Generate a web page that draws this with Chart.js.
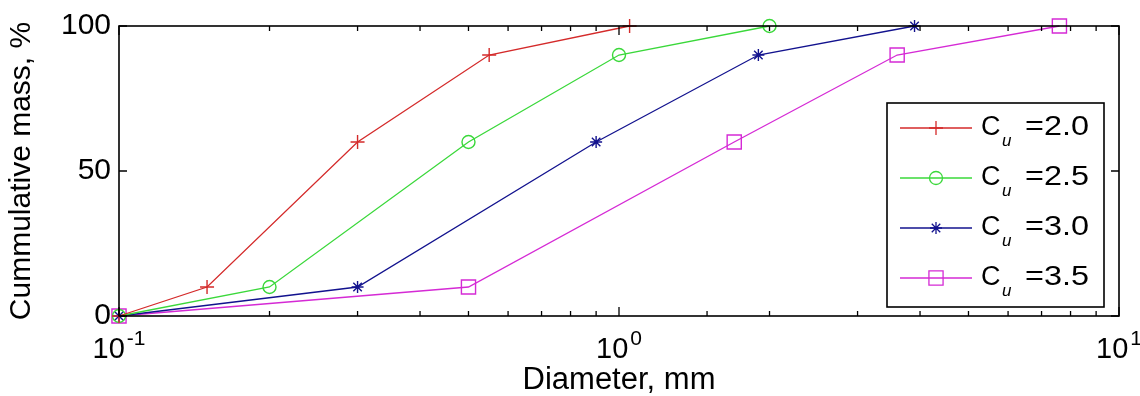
<!DOCTYPE html>
<html>
<head>
<meta charset="utf-8">
<script src="https://cdn.jsdelivr.net/npm/chart.js@4.4.0/dist/chart.umd.min.js"></script>
<style>
  html, body { margin: 0; padding: 0; background: #fff; }
</style>
</head>
<body>
<canvas id="sieve" width="1140" height="396"></canvas>
<script>
// cumulative mass passing, % (same levels for every curve)
var massPassing = [0, 10, 60, 90, 100];
// particle diameters, mm
var diamCu20 = [0.1, 0.15, 0.3, 0.55, 1.05];
var diamCu25 = [0.1, 0.2, 0.5, 1.0, 2.0];
var diamCu30 = [0.1, 0.3, 0.9, 1.9, 3.9];
var diamCu35 = [0.1, 0.5, 1.7, 3.6, 7.6];
var cuValues = ['2.0', '2.5', '3.0', '3.5'];
var yTickValues = [0, 50, 100];

var FONT = "'Liberation Sans', Arial, sans-serif";
Chart.defaults.font.family = FONT;
Chart.defaults.color = '#000';

function pairUp(xs, ys) {
  return xs.map(function(x, i) { return {x: x, y: ys[i]}; });
}
function isDecade(v) {
  var l = Math.log10(v);
  return Math.abs(l - Math.round(l)) < 1e-6;
}

var styles = [
  {color: '#d42a2a', pointStyle: 'cross', radius: 7},
  {color: '#3ad83a', pointStyle: 'circle', radius: 6.5},
  {color: '#12128e', pointStyle: 'star', radius: 6},
  {color: '#d52ad5', pointStyle: 'rect', radius: 10}
];
var diams = [diamCu20, diamCu25, diamCu30, diamCu35];

var datasets = diams.map(function(d, i) {
  var s = styles[i];
  return {
    label: 'Cu=' + cuValues[i],
    data: pairUp(d, massPassing),
    borderColor: s.color,
    borderWidth: 1.3,
    pointStyle: s.pointStyle,
    pointRadius: s.radius,
    pointBorderColor: s.color,
    pointBackgroundColor: 'rgba(0,0,0,0)',
    pointBorderWidth: 1.4,
    fill: false,
    tension: 0,
    clip: false
  };
});

var framePlugin = {
  id: 'frame',
  afterDraw: function(chart) {
    var ctx = chart.ctx, a = chart.chartArea;
    var xs = chart.scales.x, ys = chart.scales.y;
    ctx.save();
    ctx.strokeStyle = '#000';
    ctx.lineWidth = 1.6;
    ctx.strokeRect(a.left, a.top, a.right - a.left, a.bottom - a.top);

    // inward tick marks, bottom/top and left/right
    ctx.lineWidth = 1.3;
    ctx.beginPath();
    xs.ticks.forEach(function(t) {
      var px = xs.getPixelForValue(t.value);
      var len = isDecade(t.value) ? 9 : 5;
      ctx.moveTo(px, a.bottom); ctx.lineTo(px, a.bottom - len);
      ctx.moveTo(px, a.top); ctx.lineTo(px, a.top + len);
    });
    ys.ticks.forEach(function(t) {
      var py = ys.getPixelForValue(t.value);
      ctx.moveTo(a.left, py); ctx.lineTo(a.left + 8, py);
      ctx.moveTo(a.right, py); ctx.lineTo(a.right - 8, py);
    });
    ctx.stroke();

    // decade labels as 10 with a superscript exponent
    ctx.fillStyle = '#000';
    ctx.textBaseline = 'alphabetic';
    xs.ticks.forEach(function(t) {
      if (!isDecade(t.value)) return;
      var px = xs.getPixelForValue(t.value);
      var expo = String(Math.round(Math.log10(t.value)));
      ctx.font = '29px ' + FONT;
      var w1 = ctx.measureText('10').width;
      ctx.font = '21px ' + FONT;
      var w2 = ctx.measureText(expo).width;
      var x0 = px - (w1 + w2 + 2) / 2;
      ctx.font = '29px ' + FONT;
      ctx.fillText('10', x0, 358);
      ctx.font = '21px ' + FONT;
      ctx.fillText(expo, x0 + w1 + 2, 345);
    });

    // legend box
    var bx = 887, by = 103, bw = 217, bh = 204;
    ctx.fillStyle = '#fff';
    ctx.fillRect(bx, by, bw, bh);
    ctx.strokeStyle = '#000';
    ctx.lineWidth = 1.6;
    ctx.strokeRect(bx, by, bw, bh);
    chart.data.datasets.forEach(function(ds, i) {
      var y = 128 + 50 * i;
      ctx.strokeStyle = ds.borderColor;
      ctx.lineWidth = 1.3;
      ctx.beginPath();
      ctx.moveTo(900, y); ctx.lineTo(972, y);
      ctx.stroke();
      ctx.fillStyle = 'rgba(0,0,0,0)';
      Chart.helpers.drawPoint(ctx, {
        pointStyle: ds.pointStyle, radius: ds.pointRadius,
        rotation: 0, borderWidth: ds.pointBorderWidth
      }, 936, y);
      ctx.fillStyle = '#000';
      ctx.textBaseline = 'middle';
      ctx.font = '27px ' + FONT;
      ctx.fillText('C', 981, y);
      ctx.font = 'italic 17px ' + FONT;
      ctx.fillText('u', 1002, y + 13);
      ctx.save();
      ctx.translate(1025, y);
      ctx.scale(1.2, 1);
      ctx.font = '27px ' + FONT;
      ctx.fillText('=' + cuValues[i], 0, 0);
      ctx.restore();
    });
    ctx.restore();
  }
};

new Chart(document.getElementById('sieve'), {
  type: 'line',
  data: {datasets: datasets},
  options: {
    responsive: false,
    animation: false,
    events: [],
    layout: {padding: {top: 24, right: 21, left: 0, bottom: 0}},
    plugins: {legend: {display: false}, tooltip: {enabled: false}},
    scales: {
      x: {
        type: 'logarithmic',
        min: 0.1,
        max: 10,
        grid: {display: false, drawTicks: false},
        border: {display: false},
        ticks: {autoSkip: false, callback: function() { return ''; }},
        title: {display: true, text: 'Diameter, mm', font: {size: 31, lineHeight: 1.0}, padding: {top: 0, bottom: 0}},
        afterFit: function(s) { s.height = 80; }
      },
      y: {
        min: 0,
        max: 100,
        grid: {display: false, drawTicks: false},
        border: {display: false},
        afterBuildTicks: function(s) {
          s.ticks = yTickValues.map(function(v) { return {value: v}; });
        },
        ticks: {font: {size: 30}, padding: 8},
        title: {display: true, text: 'Cummulative mass, %', font: {size: 30}, padding: {top: 4, bottom: 4}},
        afterFit: function(s) { s.width = 119; }
      }
    }
  },
  plugins: [framePlugin]
});
</script>
</body>
</html>
